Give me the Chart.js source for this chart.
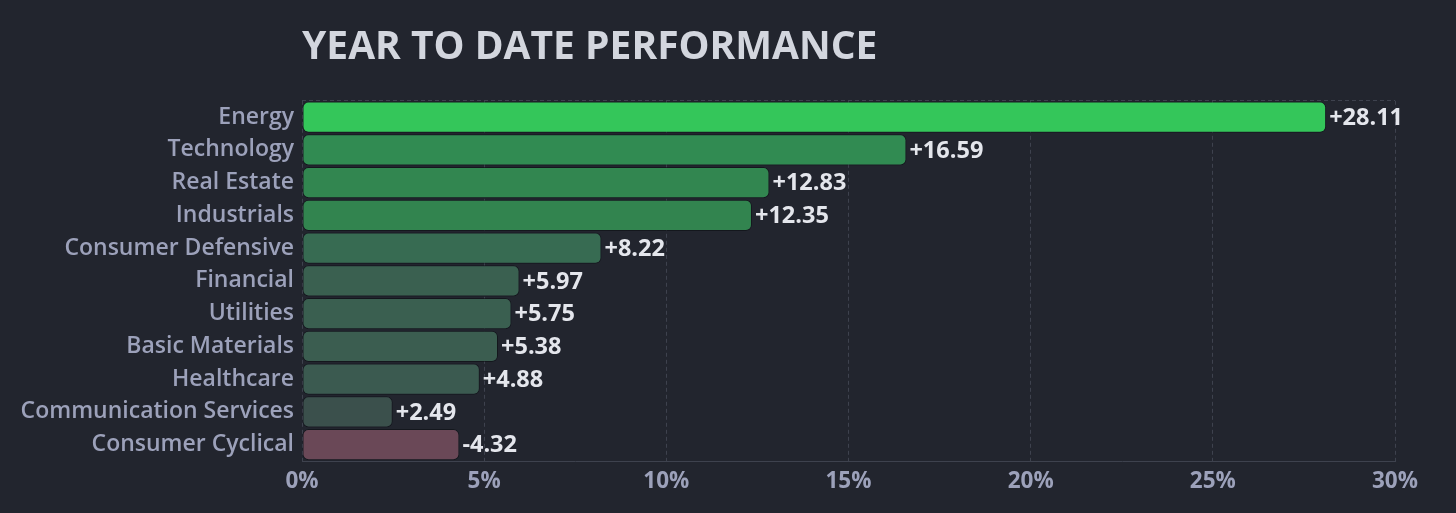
<!DOCTYPE html>
<html>
<head>
<meta charset="utf-8">
<script src="https://cdn.jsdelivr.net/npm/chart.js@4"></script>
<style>
  html, body { margin: 0; padding: 0; background: #22252e; }
  #wrap { width: 1456px; height: 513px; }
</style>
</head>
<body>
<div id="wrap"><canvas id="c" width="1456" height="513"></canvas></div>
<script>
const sectors = ["Energy", "Technology", "Real Estate", "Industrials", "Consumer Defensive",
  "Financial", "Utilities", "Basic Materials", "Healthcare", "Communication Services", "Consumer Cyclical"];
const ytdValues = [28.11, 16.59, 12.83, 12.35, 8.22, 5.97, 5.75, 5.38, 4.88, 2.49, -4.32];
const xTickMax = 30;
const xTickStep = 5;
const chartTitle = "YEAR TO DATE PERFORMANCE";

const barColors = ["#34c65a", "#318b52", "#328650", "#32844f", "#376b52", "#3a6050",
  "#3a5f50", "#3b5d50", "#3b5a50", "#3b504c", "#6a4857"];

const FONT = "'Open Sans', 'Noto Sans', sans-serif";
const gridColor = "#3e424e";

const valueLabels = {
  id: "valueLabels",
  afterDatasetsDraw(chart) {
    const { ctx } = chart;
    const meta = chart.getDatasetMeta(0);
    ctx.save();
    ctx.font = "700 23.5px " + FONT;
    ctx.fillStyle = "#e4e6ec";
    ctx.textAlign = "left";
    ctx.textBaseline = "middle";
    meta.data.forEach((bar, i) => {
      const v = ytdValues[i];
      const txt = (v > 0 ? "+" : "") + v.toFixed(2);
      ctx.fillText(txt, bar.x + 3, bar.y + 1);
    });
    ctx.restore();
  }
};

new Chart(document.getElementById("c"), {
  type: "bar",
  data: {
    labels: sectors,
    datasets: [{
      data: ytdValues.map(v => Math.abs(v)),
      backgroundColor: barColors,
      borderColor: "rgba(10,12,16,0.55)",
      borderWidth: 1,
      borderRadius: 6,
      borderSkipped: false,
      barPercentage: 0.95,
      categoryPercentage: 1.0
    }]
  },
  options: {
    indexAxis: "y",
    responsive: false,
    animation: false,
    layout: { padding: { left: 0, right: 61, top: 0, bottom: 0 } },
    plugins: {
      legend: { display: false },
      tooltip: { enabled: false },
      title: {
        display: true,
        text: chartTitle,
        align: "start",
        fullSize: false,
        color: "#d3d6de",
        font: { family: FONT, size: 39, weight: "700" },
        padding: { top: 24, bottom: 30 }
      }
    },
    scales: {
      x: {
        min: 0,
        max: xTickMax,
        ticks: {
          stepSize: xTickStep,
          color: "#9ca1ba",
          font: { family: FONT, size: 22.5, weight: "700" },
          padding: 7,
          callback: v => v + "%"
        },
        grid: { color: gridColor, lineWidth: 1, drawTicks: false },
        border: { display: true, color: gridColor, dash: [4, 3] },
        afterFit: s => { s.height = 52; }
      },
      y: {
        ticks: {
          color: "#9ca1ba",
          font: { family: FONT, size: 23, weight: "600" },
          padding: 8
        },
        grid: {
          drawTicks: false,
          color: ctx => (ctx.index === 0 ? gridColor : "rgba(0,0,0,0)"),
          lineWidth: 1
        },
        border: { display: false, dash: [4, 3] },
        afterFit: s => { s.width = 302; }
      }
    }
  },
  plugins: [valueLabels]
});
</script>
</body>
</html>
